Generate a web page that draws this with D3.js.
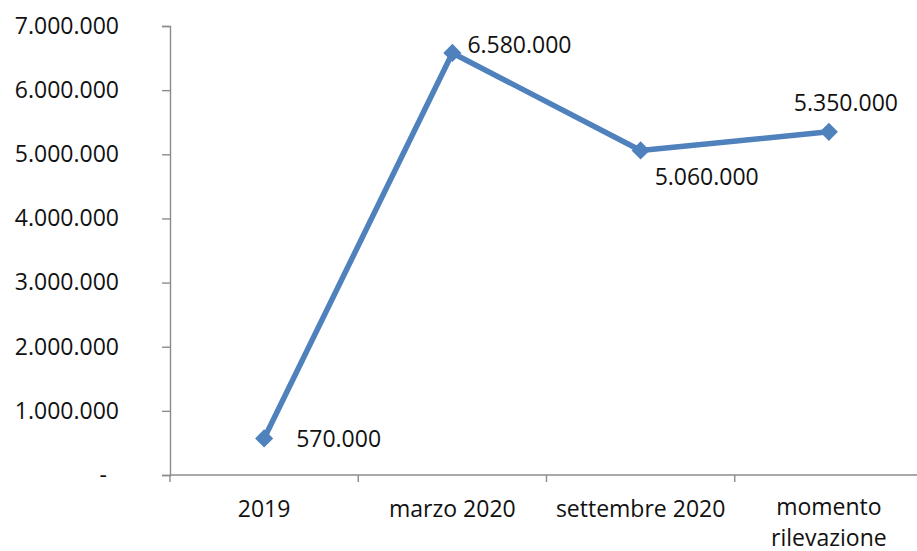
<!DOCTYPE html>
<html>
<head>
<meta charset="utf-8">
<script src="https://cdn.jsdelivr.net/npm/d3@7"></script>
<style>
  html, body { margin: 0; padding: 0; background: #fff; }
  svg { display: block; font-family: "Open Sans", "Noto Sans", sans-serif; }
</style>
</head>
<body>
<svg id="chart" width="917" height="551"></svg>
<script>
// Categories and values
const categories = ["2019", "marzo 2020", "settembre 2020", "momento rilevazione"];
const values = [570000, 6580000, 5060000, 5350000];
const yTicks = [0, 1000000, 2000000, 3000000, 4000000, 5000000, 6000000, 7000000];
// Data label placement relative to each point
const labelPos = ["right", "aboveRight", "belowRight", "above"];

const svg = d3.select("#chart");
const W = 917, H = 551;
const margin = { left: 170, top: 26, bottom: 76 };
const plotRight = 923;

const it = d3.formatLocale({ decimal: ",", thousands: ".", grouping: [3], currency: ["€", ""] });
const fmt = it.format(",.0f");

const x = d3.scaleBand().domain(categories).range([margin.left, plotRight]).paddingInner(0).paddingOuter(0);
const y = d3.scaleLinear().domain([0, 7000000]).range([H - margin.bottom, margin.top]);

const axisColor = "#8c8c8c";
const fontSize = 23;

// Y axis
const yAxis = svg.append("g")
  .attr("transform", `translate(${margin.left},0)`)
  .call(d3.axisLeft(y).tickValues(yTicks).tickSize(8).tickPadding(43)
    .tickFormat(d => d === 0 ? "-" : fmt(d)));
yAxis.select(".domain").attr("stroke", axisColor).attr("stroke-width", 1.4);
yAxis.selectAll(".tick line").attr("stroke", axisColor).attr("stroke-width", 1.4);
yAxis.selectAll(".tick text")
  .attr("font-size", fontSize).attr("fill", "#111").attr("font-family", "Open Sans, sans-serif")
  .attr("dx", d => d === 0 ? -12 : 0);

// X axis with boundary ticks between categories
const xg = svg.append("g").attr("transform", `translate(0,${y(0)})`);
xg.append("line").attr("x1", margin.left).attr("x2", W).attr("y1", 0).attr("y2", 0)
  .attr("stroke", axisColor).attr("stroke-width", 1.4);
const bounds = categories.map(c => x(c)).concat([x(categories[categories.length - 1]) + x.bandwidth()]);
xg.selectAll("line.bt").data(bounds).enter().append("line").attr("class", "bt")
  .attr("x1", d => d).attr("x2", d => d).attr("y1", 0).attr("y2", 7)
  .attr("stroke", axisColor).attr("stroke-width", 1.4);

// Category labels; the long one wraps onto two lines
xg.selectAll("g.cat").data(categories).enter().append("g").attr("class", "cat")
  .each(function(d) {
    const words = d === "momento rilevazione" ? ["momento", "rilevazione"] : [d];
    const g = d3.select(this);
    words.forEach((w, i) => {
      g.append("text")
        .attr("x", x(d) + x.bandwidth() / 2)
        .attr("y", words.length > 1 ? 40 + i * 31 : 42)
        .attr("text-anchor", "middle")
        .attr("font-size", fontSize).attr("fill", "#111")
        .text(w);
    });
  });

// Line
const cx = d => x(d) + x.bandwidth() / 2;
const lineData = categories.map((c, i) => ({ c, v: values[i], pos: labelPos[i] }));
svg.append("path").datum(lineData)
  .attr("fill", "none").attr("stroke", "#4f81bd").attr("stroke-width", 5.5)
  .attr("stroke-linejoin", "round")
  .attr("d", d3.line().x(d => cx(d.c)).y(d => y(d.v)));

// Diamond markers
svg.selectAll("path.mk").data(lineData).enter().append("path").attr("class", "mk")
  .attr("transform", d => `translate(${cx(d.c)},${y(d.v)})`)
  .attr("d", d3.symbol().type(d3.symbolDiamond2).size(210))
  .attr("fill", "#4f81bd");

// Value labels
svg.selectAll("text.val").data(lineData).enter().append("text").attr("class", "val")
  .attr("font-size", fontSize).attr("fill", "#111")
  .attr("x", d => {
    const px = cx(d.c);
    if (d.pos === "right") return px + 32;
    if (d.pos === "aboveRight") return px + 15;
    if (d.pos === "belowRight") return px + 14;
    return px + 17;
  })
  .attr("y", d => {
    const py = y(d.v);
    if (d.pos === "right") return py + 9;
    if (d.pos === "aboveRight") return py;
    if (d.pos === "belowRight") return py + 35;
    return py - 21;
  })
  .attr("text-anchor", d => d.pos === "above" ? "middle" : "start")
  .text(d => fmt(d.v));
</script>
</body>
</html>
